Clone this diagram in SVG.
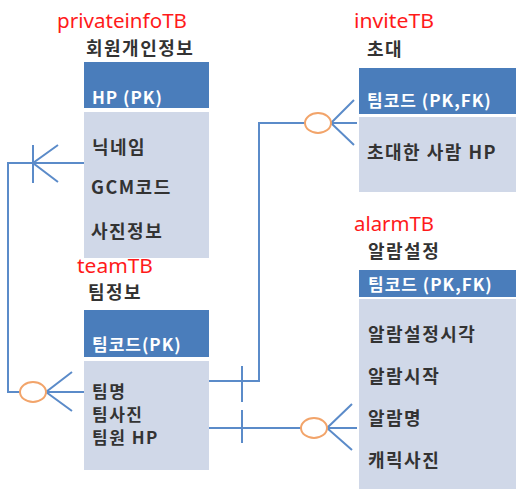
<svg xmlns="http://www.w3.org/2000/svg" width="516" height="489" viewBox="0 0 516 489">
<style>
.hdr{fill:#4a7dbb}
.body{fill:#d0d8e8}
.ttl{font-family:"Noto Sans","Noto Sans CJK KR",sans-serif;font-size:19px;fill:#ff1a1a}
.lbl{font-family:"Noto Sans CJK KR","Noto Sans",sans-serif;font-size:18px;font-weight:bold;fill:#333333;letter-spacing:1.5px}
.tight{font-size:17px;letter-spacing:1.5px}
.hl{font-family:"Noto Sans CJK KR","Noto Sans",sans-serif;font-size:17px;font-weight:bold;fill:#ffffff;letter-spacing:1px}
.ln{fill:none;stroke:#5b8bc9;stroke-width:2}
.ring{fill:#ffffff;stroke:#f2a46a;stroke-width:2}
</style>
<rect width="516" height="489" fill="#ffffff"/>
<g id="connectors">
  <path class="ln" d="M84,163 H8 V392 H46"/>
  <path class="ln" d="M33,145 V183 M58,145 L33,163 L58,182"/>
  <path class="ln" d="M46,392 H84 M72,372 L46,392 L72,411"/>
  <ellipse class="ring" cx="33" cy="392" rx="13" ry="10"/>
  <path class="ln" d="M209,381 H259 V123 H331"/>
  <path class="ln" d="M242,366 V402"/>
  <path class="ln" d="M331,123 H357 M354,100 L331,123 L354,145"/>
  <ellipse class="ring" cx="318" cy="123" rx="13" ry="10"/>
  <path class="ln" d="M209,428 H327"/>
  <path class="ln" d="M242,410 V443"/>
  <path class="ln" d="M327,428 H357 M352,404 L327,428 L352,450"/>
  <ellipse class="ring" cx="314" cy="428" rx="13" ry="10"/>
</g>
<g id="privateinfoTB">
  <text class="ttl" x="57" y="28" textLength="130" lengthAdjust="spacingAndGlyphs">privateinfoTB</text>
  <text class="lbl" x="86" y="55">회원개인정보</text>
  <rect class="hdr" x="84" y="62" width="125" height="46"/>
  <rect class="body" x="84" y="112" width="125" height="146"/>
  <text class="hl" x="92" y="104">HP  (PK)</text>
  <text class="lbl" x="92" y="154">닉네임</text>
  <text class="lbl" x="91" y="194">GCM코드</text>
  <text class="lbl" x="91" y="238">사진정보</text>
</g>
<g id="teamTB">
  <text class="ttl" x="77" y="273" textLength="76" lengthAdjust="spacingAndGlyphs">teamTB</text>
  <text class="lbl" x="88" y="299">팀정보</text>
  <rect class="hdr" x="84" y="310" width="125" height="47"/>
  <rect class="body" x="84" y="361" width="125" height="109"/>
  <text class="hl" x="92" y="351">팀코드(PK)</text>
  <text class="lbl tight" x="92" y="398">팀명</text>
  <text class="lbl tight" x="92" y="421">팀사진</text>
  <text class="lbl tight" x="92" y="444">팀원 HP</text>
</g>
<g id="inviteTB">
  <text class="ttl" x="354" y="28" textLength="80" lengthAdjust="spacingAndGlyphs">inviteTB</text>
  <text class="lbl" x="367" y="56">초대</text>
  <rect class="hdr" x="359" y="68" width="157" height="46"/>
  <rect class="body" x="359" y="117" width="157" height="75"/>
  <text class="hl" x="367" y="107">팀코드 (PK,FK)</text>
  <text class="lbl" x="367" y="159">초대한 사람 HP</text>
</g>
<g id="alarmTB">
  <text class="ttl" x="354" y="231" textLength="80" lengthAdjust="spacingAndGlyphs">alarmTB</text>
  <text class="lbl" x="368" y="258">알람설정</text>
  <rect class="hdr" x="359" y="270" width="157" height="27"/>
  <rect class="body" x="359" y="299" width="157" height="190"/>
  <text class="hl" x="368" y="291">팀코드 (PK,FK)</text>
  <text class="lbl" x="368" y="341">알람설정시각</text>
  <text class="lbl" x="368" y="383">알람시작</text>
  <text class="lbl" x="368" y="425">알람명</text>
  <text class="lbl" x="368" y="467">캐릭사진</text>
</g>
</svg>
